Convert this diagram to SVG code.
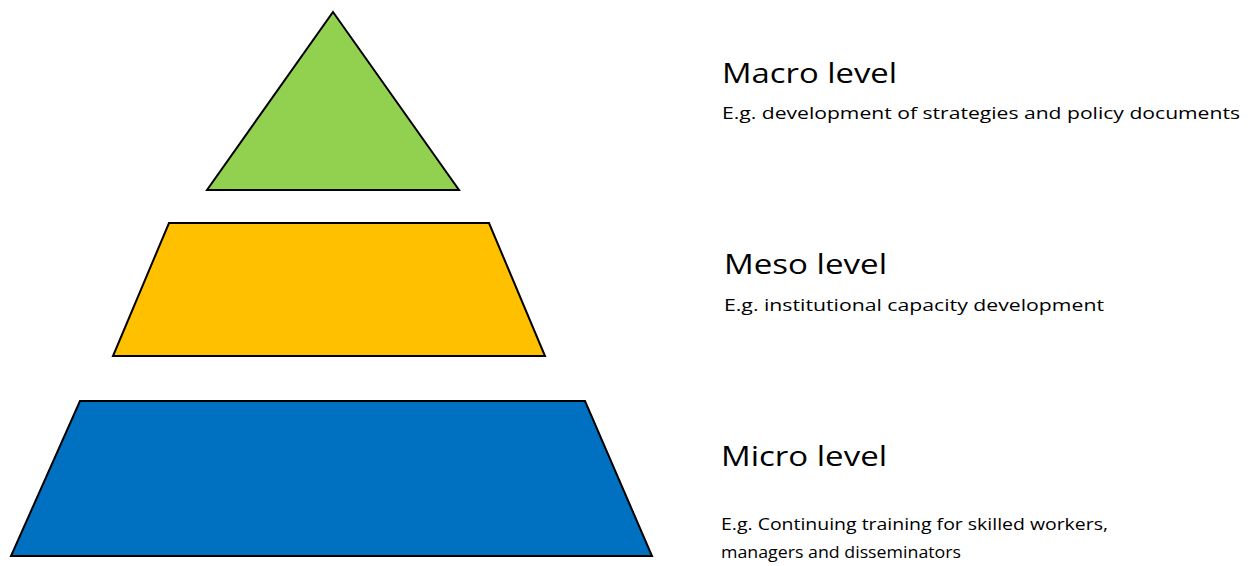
<svg xmlns="http://www.w3.org/2000/svg" width="1254" height="566" viewBox="0 0 1254 566">
  <style>
    .tier { stroke: #000; stroke-width: 2; stroke-linejoin: miter; }
    .title { font-family: "Open Sans", "Noto Sans", "Liberation Sans", sans-serif; font-size: 27px; fill: #000; }
    .note { font-family: "Open Sans", "Noto Sans", "Liberation Sans", sans-serif; font-size: 17px; fill: #000; }
  </style>
  <rect width="1254" height="566" fill="#fff"/>

  <!-- Pyramid tiers -->
  <g id="macro">
    <polygon class="tier" fill="#92D050" points="333,12 459,190 207,190"/>
  </g>
  <g id="meso">
    <polygon class="tier" fill="#FFC000" points="169,223 489,223 545,356 113,356"/>
  </g>
  <g id="micro">
    <polygon class="tier" fill="#0070C0" points="80,401 585,401 652,556 11,556"/>
  </g>

  <!-- Level descriptions -->
  <g id="macro-label">
    <text class="title" x="722" y="83" textLength="175" lengthAdjust="spacingAndGlyphs">Macro level</text>
    <text class="note" x="722" y="119" textLength="518" lengthAdjust="spacingAndGlyphs">E.g. development of strategies and policy documents</text>
  </g>
  <g id="meso-label">
    <text class="title" x="724" y="274" textLength="163" lengthAdjust="spacingAndGlyphs">Meso level</text>
    <text class="note" x="724" y="311" textLength="380" lengthAdjust="spacingAndGlyphs">E.g. institutional capacity development</text>
  </g>
  <g id="micro-label">
    <text class="title" x="721" y="466" textLength="166" lengthAdjust="spacingAndGlyphs">Micro level</text>
    <text class="note" x="721" y="530" textLength="387" lengthAdjust="spacingAndGlyphs">E.g. Continuing training for skilled workers,</text>
    <text class="note" x="721" y="558" textLength="240" lengthAdjust="spacingAndGlyphs">managers and disseminators</text>
  </g>

  <!-- no connectors in this figure -->
  <g id="connectors"/>
</svg>
